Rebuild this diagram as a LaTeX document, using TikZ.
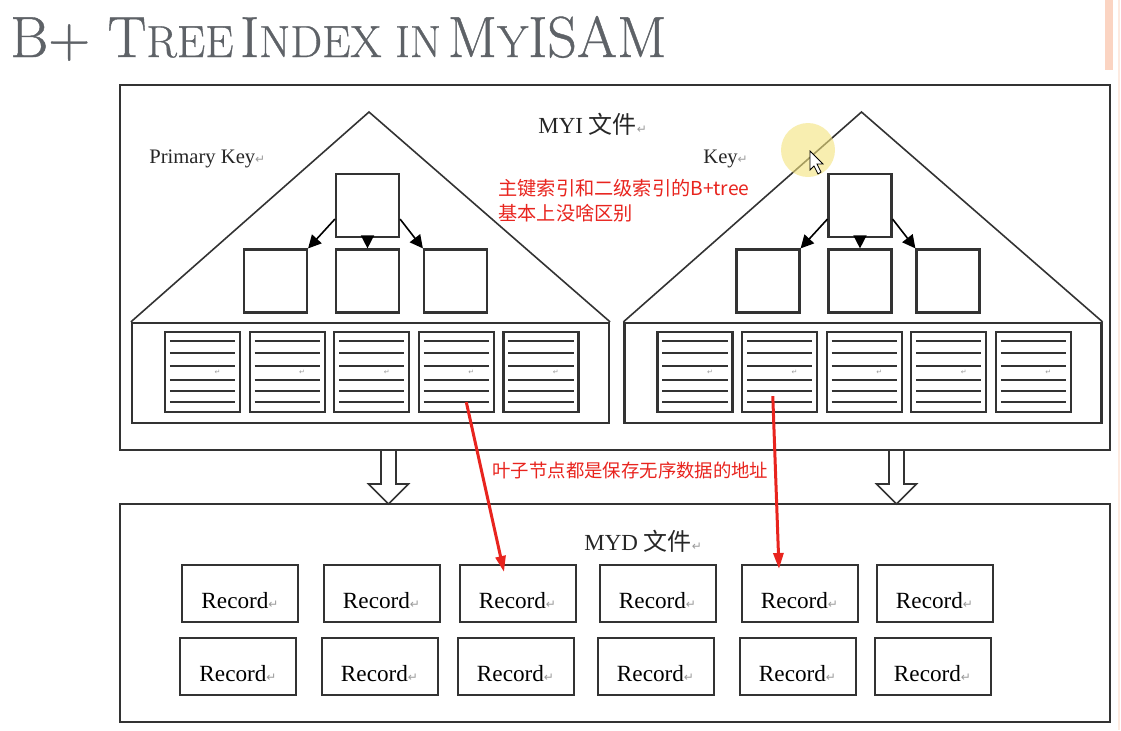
\documentclass[tikz,border=0pt]{standalone}
\usepackage{fontspec}
\usetikzlibrary{arrows.meta,calc}
\newfontfamily\tnr{Liberation Serif}
\newfontfamily\cjk{Noto Sans CJK SC}
\newfontfamily\dejavu{DejaVu Sans}
\newfontfamily\titlefont{Latin Modern Roman}[FakeBold=0.7]
\definecolor{linegray}{HTML}{333333}
\definecolor{titlegray}{HTML}{5E6267}
\definecolor{retgray}{HTML}{9A9A9A}
\definecolor{notered}{HTML}{E8241E}
\definecolor{halo}{HTML}{F3E27C}
\definecolor{barorange}{HTML}{FBD4C2}
\newcommand{\ret}{{\color{retgray}\dejavu\fontsize{6}{6}\selectfont ↵}}
\newcommand{\tcap}[1]{{\fontsize{29}{29}\selectfont #1}}
\newcommand{\tsml}[1]{{\fontsize{22.5}{22.5}\selectfont #1}}
\tikzset{
  frame/.style={draw=linegray,line width=1pt,inner sep=0pt},
  treebox/.style={draw=linegray,line width=1.1pt,minimum width=31.5pt,minimum height=31.5pt,inner sep=0pt},
  pagebox/.style={draw=linegray,line width=1.1pt,minimum width=37.5pt,minimum height=40pt,inner sep=0pt},
  pageline/.style={draw=linegray,line width=1pt},
  recbox/.style={draw=linegray,line width=1pt,minimum width=58pt,minimum height=28.5pt,inner sep=0pt,
    text height=15pt,text depth=0pt,font=\tnr\fontsize{11.6}{12}\selectfont},
  treearrow/.style={draw=black,line width=0.8pt,-{Triangle[length=6.5pt,width=6.5pt]}},
  hollow/.style={draw=linegray,line width=0.8pt,fill=white},
  redptr/.style={draw=notered,line width=1.5pt,-{Triangle[length=8pt,width=5pt]}},
  note/.style={text=notered,inner sep=0pt,font=\cjk\fontsize{9.6}{12.5}\selectfont},
  label/.style={inner sep=0pt,text=black!85}
}

\begin{document}
\begin{tikzpicture}[x=0.5pt,y=-0.5pt]
\useasboundingbox (0,0) rectangle (1121,730);
\fill[barorange] (1105,0) rectangle (1113,70);
\draw[barorange!50,line width=0.8pt] (1119,0) -- (1119,730);

% title
\node[anchor=base west,inner sep=0pt,text=titlegray,font=\titlefont] (title) at (10,57)
  {\tcap{B+ T}\tsml{REE} \tcap{I}\tsml{NDEX IN} \tcap{M}\tsml{Y}\tcap{ISAM}};

% MYI file with the two trees
\node[frame,minimum width=495pt,minimum height=182.5pt] (myi) at (615,267.5) {};
\node[label,anchor=west] (myilabel) at (538,124)
  {\tnr\fontsize{11.5}{12}\selectfont MYI {\cjk\fontsize{12}{12}\selectfont 文件}\ret};
\node[label,anchor=west] (pkey) at (149,159) {\tnr\fontsize{10.3}{12}\selectfont Primary Key\ret};
\node[label,anchor=west] (skey) at (703,159) {\tnr\fontsize{10.3}{12}\selectfont Key\ret};

\foreach \t/\cx in {L/370.5,R/863}{
  \coordinate (apex\t) at ({\cx-1.5},112);
  \node[frame,line width=1.1pt,minimum width=238.5pt,minimum height=50pt] (leaf\t) at (\cx,373) {};
  \draw[linegray,line width=0.8pt] (leaf\t.north west) -- (apex\t) -- (leaf\t.north east);
  \node[treebox] (root\t) at ({\cx-3},205.5) {};
  \node[treebox] (ch\t1) at ({\cx-95},281) {};
  \node[treebox] (ch\t2) at ({\cx-3},281) {};
  \node[treebox] (ch\t3) at ({\cx+85},281) {};
  \draw[treearrow] ([yshift=9.5pt]root\t.south west) -- (ch\t1.north east);
  \draw[treearrow] (root\t.south) -- (ch\t2.north);
  \draw[treearrow] ([yshift=9.5pt]root\t.south east) -- (ch\t3.north west);
  \foreach \i in {1,...,5}{
    \node[pagebox] (pg\t\i) at ({\cx-168+(\i-1)*84.6},372) {};
    \foreach \dy in {5,11,17.5,24.5,30,35.5}
      \draw[pageline] ([xshift=3pt,yshift=-\dy*1pt]pg\t\i.north west) -- ([xshift=-3pt,yshift=-\dy*1pt]pg\t\i.north east);
    \node[inner sep=0pt,text=retgray,font=\dejavu\fontsize{3.5}{4}\selectfont] at ([xshift=7.5pt,yshift=-20.5pt]pg\t\i.north) {↵};
  }
}

\node[note,anchor=north west,align=left] (noteidx) at (498,179) {主键索引和二级索引的B+tree\\基本上没啥区别};

% MYD file
\node[frame,minimum width=495pt,minimum height=109pt] (myd) at (615,613) {};
\node[label,anchor=west] (mydlabel) at (584,541)
  {\tnr\fontsize{11.5}{12}\selectfont MYD {\cjk\fontsize{12}{12}\selectfont 文件}\ret};
\foreach \x [count=\c] in {240,381.5,517.5,657.5,799.5,934.5}{
  \node[recbox] (rec1\c) at (\x,593.5) {Record\ret};
  \node[recbox] (rec2\c) at ({\x-2},666) {Record\ret};
}

\foreach \hx in {388.5,896.5}
  \draw[hollow] ({\hx-7.5},450) -- ({\hx+7.5},450) -- ({\hx+7.5},484) -- ({\hx+20},484)
    -- (\hx,504) -- ({\hx-20},484) -- ({\hx-7.5},484) -- cycle;

% leaf pages point at records
\node[note,anchor=west,font=\cjk\fontsize{9.2}{12}\selectfont] (noteleaf) at (492,470) {叶子节点都是保存无序数据的地址};
\draw[redptr] ([xshift=5pt,yshift=5.5pt]pgL4.south) -- ([xshift=-6.75pt,yshift=-4pt]rec13.north);
\draw[redptr] ([xshift=-3.4pt,yshift=8.5pt]pgR2.south) -- ([xshift=-10.25pt,yshift=-2.5pt]rec15.north);

% pointer
\fill[halo,opacity=0.6] (808,150) circle (13.5pt);
\draw[black,fill=white,line width=0.4pt] (810,151) -- (810,170) -- (814,166) -- (818,174) -- (821,172)
  -- (817,164) -- (823,164) -- cycle;
\end{tikzpicture}
\end{document}
